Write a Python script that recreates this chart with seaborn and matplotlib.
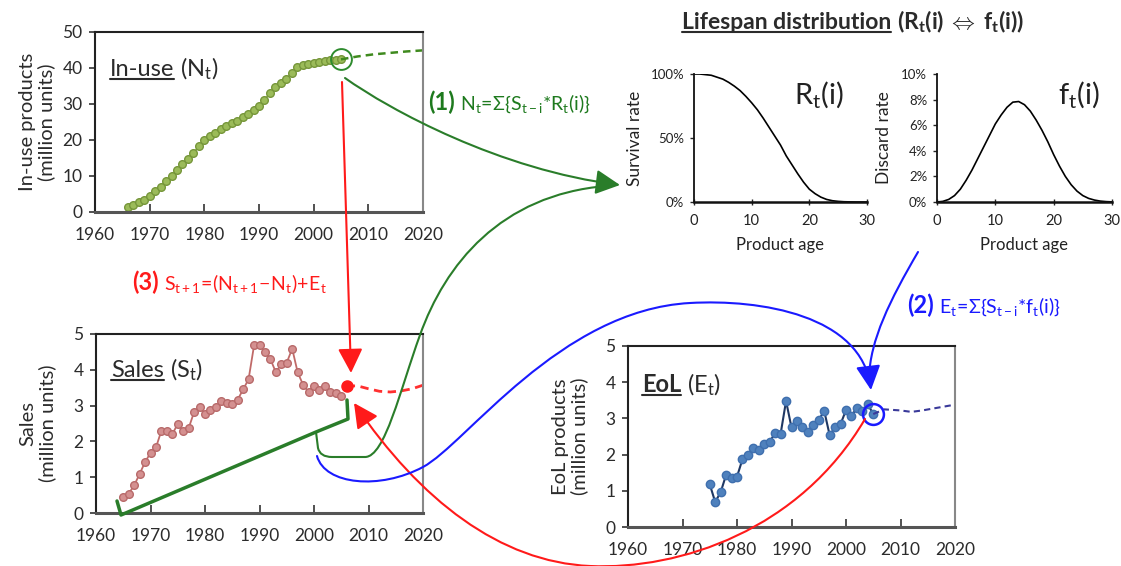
import numpy as np
import seaborn as sns
import matplotlib.pyplot as plt
from matplotlib.path import Path
from matplotlib.patches import FancyArrowPatch, PathPatch
from matplotlib.lines import Line2D
from matplotlib.ticker import PercentFormatter

sns.set_theme(style='ticks')
plt.rcParams['font.family'] = ['Lato', 'DejaVu Sans']
plt.rcParams['mathtext.fontset'] = 'custom'
plt.rcParams['mathtext.rm'] = 'Lato'
plt.rcParams['mathtext.it'] = 'Lato:italic'
plt.rcParams['mathtext.bf'] = 'Lato:bold'

# ---- data ----
inuse_years = list(range(1966, 2006))
inuse_vals = [1.5, 2.0, 2.7, 3.4, 4.5, 5.8, 7.0, 8.5, 10.0, 11.6,
              13.2, 14.8, 16.4, 18.2, 20.0, 21.0, 22.0, 23.0, 24.0, 24.6,
              25.4, 26.3, 27.2, 28.3, 29.5, 31.2, 33.0, 34.6, 35.9, 37.0,
              38.7, 40.2, 40.8, 41.1, 41.4, 41.7, 41.9, 42.1, 42.2, 42.4]
inuse_fc_years = [2005, 2008, 2011, 2014, 2017, 2020]
inuse_fc_vals = [42.4, 43.2, 43.8, 44.2, 44.6, 44.9]

sales_years = list(range(1965, 2006))
sales_vals = [0.45, 0.54, 0.77, 1.09, 1.42, 1.68, 1.83, 2.30, 2.30, 2.20,
              2.49, 2.28, 2.37, 2.82, 2.96, 2.77, 2.87, 2.96, 3.12, 3.06,
              3.05, 3.17, 3.45, 3.74, 4.68, 4.70, 4.49, 4.30, 3.93, 4.16,
              4.20, 4.59, 3.93, 3.58, 3.38, 3.54, 3.43, 3.56, 3.38, 3.35, 3.28]
sales_next_year = 2006
sales_next_val = 3.55
sales_fc_years = [2006, 2008, 2010, 2012, 2014, 2016, 2018, 2020]
sales_fc_vals = [3.55, 3.55, 3.47, 3.40, 3.38, 3.41, 3.47, 3.57]

eol_years = list(range(1975, 2006))
eol_vals = [1.18, 0.69, 0.96, 1.44, 1.35, 1.39, 1.87, 1.98, 2.19, 2.13,
            2.28, 2.35, 2.60, 2.57, 3.48, 2.75, 2.94, 2.75, 2.62, 2.82,
            2.95, 3.21, 2.54, 2.75, 2.84, 3.23, 3.06, 3.30, 3.20, 3.39, 3.12]
eol_fc_years = [2005, 2007, 2010, 2012, 2014, 2017, 2020]
eol_fc_vals = [3.12, 3.25, 3.22, 3.18, 3.22, 3.30, 3.38]

ages = list(range(0, 31))
survival = [1.00, 1.00, 0.995, 0.99, 0.975, 0.96, 0.935, 0.905, 0.87, 0.825,
            0.775, 0.72, 0.655, 0.585, 0.515, 0.445, 0.36, 0.29, 0.22, 0.155,
            0.10, 0.065, 0.038, 0.02, 0.01, 0.005, 0.002, 0.001, 0.0, 0.0, 0.0]
discard = [0.0, 0.0005, 0.002, 0.005, 0.010, 0.017, 0.025, 0.034, 0.043, 0.052,
           0.061, 0.068, 0.074, 0.078, 0.0785, 0.076, 0.071, 0.064, 0.056, 0.047,
           0.037, 0.028, 0.020, 0.0135, 0.0085, 0.005, 0.0028, 0.0015, 0.0007, 0.0003, 0.0001]

W, H = 1121, 566
fig = plt.figure(figsize=(W / 100, H / 100), dpi=100)
fig.patch.set_facecolor('white')
txt = '#2b2b2b'


def rect(x0, y0, x1, y1):
    return [x0 / W, 1 - y1 / H, (x1 - x0) / W, (y1 - y0) / H]


ax_n = fig.add_axes(rect(95, 32, 423, 212))
ax_s = fig.add_axes(rect(96, 334, 423, 513))
ax_e = fig.add_axes(rect(628, 346, 955, 527))
ax_r = fig.add_axes(rect(694, 74, 867, 202))
ax_f = fig.add_axes(rect(937, 74, 1112, 202))


def style_time(ax, ymax, ystep, label):
    ax.set_xlim(1960, 2020)
    ax.set_ylim(0, ymax)
    ax.set_xticks(range(1960, 2021, 10))
    ax.set_yticks(np.arange(0, ymax + 0.01, ystep))
    ax.tick_params(axis='x', direction='in', length=6, width=1.2, labelsize=12.5,
                   pad=11, color='#333', labelcolor=txt)
    ax.tick_params(axis='y', direction='out', length=4, width=1.2, labelsize=12.5,
                   pad=5, color='#333', labelcolor=txt)
    for sp in ax.spines.values():
        sp.set_visible(True)
        sp.set_color('#222')
        sp.set_linewidth(1.5)
    ax.spines['right'].set_color('#888')
    ax.spines['bottom'].set_color('#555')
    ax.spines['bottom'].set_linewidth(2.2)
    ax.set_xlabel('')
    ax.set_ylabel(label, fontsize=14.5, color=txt, linespacing=1.1)
    ax.yaxis.set_label_coords(-0.122, 0.5)


# in-use
sns.lineplot(x=inuse_years, y=inuse_vals, ax=ax_n, color='#8aaa48', lw=1.2,
             marker='o', markersize=5.5, markerfacecolor='#9bbb59',
             markeredgecolor='#76963a', markeredgewidth=1)
sns.lineplot(x=inuse_fc_years, y=inuse_fc_vals, ax=ax_n, color='#3f8a1e', lw=1.8,
             linestyle=(0, (3, 2)))
ax_n.plot([inuse_years[-1]], [inuse_vals[-1]], 'o', ms=15, mfc='none',
          mec='#2e8b2e', mew=1.4)
style_time(ax_n, 50, 10, 'In-use products\n(million units)')

# sales
sns.lineplot(x=sales_years, y=sales_vals, ax=ax_s, color='#c06a68', lw=1.3,
             marker='o', markersize=5.5, markerfacecolor='#d49090',
             markeredgecolor='#b86a6a', markeredgewidth=1)
sns.lineplot(x=sales_fc_years, y=sales_fc_vals, ax=ax_s, color='#ff3030', lw=2,
             linestyle=(0, (3, 2)))
ax_s.plot([sales_next_year], [sales_next_val], 'o', ms=8, color='#ff1a1a')
style_time(ax_s, 5, 1, 'Sales\n(million units)')

# EoL
sns.lineplot(x=eol_years, y=eol_vals, ax=ax_e, color='#1f3864', lw=1.5,
             marker='o', markersize=6, markerfacecolor='#4f81bd',
             markeredgecolor='#3f6fae', markeredgewidth=1)
sns.lineplot(x=eol_fc_years, y=eol_fc_vals, ax=ax_e, color='#3a3a9a', lw=1.5,
             linestyle=(0, (3, 2)))
ax_e.plot([eol_years[-1]], [eol_vals[-1]], 'o', ms=15, mfc='none',
          mec='#1a1aff', mew=1.8)
style_time(ax_e, 5, 1, 'EoL products\n(million units)')

# lifespan distributions
sns.lineplot(x=ages, y=survival, ax=ax_r, color='black', lw=1.2)
sns.lineplot(x=ages, y=discard, ax=ax_f, color='black', lw=1.2)
for ax, ymax, step, lab, lx in [(ax_r, 1.0, 0.5, 'Survival rate', -0.295),
                                (ax_f, 0.1, 0.02, 'Discard rate', -0.257)]:
    ax.set_xlim(0, 30)
    ax.set_ylim(0, ymax)
    ax.set_xticks([0, 10, 20, 30])
    ax.set_yticks(np.arange(0, ymax + ymax / 100, step))
    ax.yaxis.set_major_formatter(PercentFormatter(1.0, decimals=0))
    ax.tick_params(axis='x', direction='inout', length=5, width=1, labelsize=10.5,
                   pad=6, labelcolor='#222')
    ax.tick_params(axis='y', direction='out', length=3, width=1, labelsize=9.5,
                   pad=4, labelcolor='#222')
    ax.spines['top'].set_visible(False)
    ax.spines['right'].set_visible(False)
    ax.spines['left'].set_linewidth(1.3)
    ax.spines['bottom'].set_linewidth(1.8)
    ax.spines['left'].set_color('#111')
    ax.spines['bottom'].set_color('#111')
    ax.set_xlabel('Product age', fontsize=12, color='#222')
    ax.xaxis.set_label_coords(0.5, -0.27)
    ax.set_ylabel(lab, fontsize=12.5, color='#222')
    ax.yaxis.set_label_coords(lx, 0.5)

ax_r.text(0.58, 0.77, r'R$_\mathregular{t}$(i)', transform=ax_r.transAxes,
          fontsize=21, color='#222', va='baseline')
ax_f.text(0.69, 0.77, r'f$_\mathregular{t}$(i)', transform=ax_f.transAxes,
          fontsize=21, color='#222', va='baseline')

renderer = fig.canvas.get_renderer()


def two_part(x, y, first, rest, size1, size2, color, w1='normal', w2='normal',
             under=False, gap=3):
    t1 = fig.text(x / W, 1 - y / H, first, fontsize=size1, color=color,
                  fontweight=w1, va='baseline', ha='left')
    bb = t1.get_window_extent(renderer)
    fig.text((bb.x1 + gap) / W, 1 - y / H, rest, fontsize=size2, color=color,
             fontweight=w2, va='baseline', ha='left')
    if under:
        yy = (H - y - 3) / H
        fig.add_artist(Line2D([bb.x0 / W, bb.x1 / W], [yy, yy], color=color, lw=1.5))


two_part(110, 76, 'In-use', r'($\mathregular{N_t}$)', 17, 17, txt, under=True, gap=6)
two_part(111, 377, 'Sales', r'($\mathregular{S_t}$)', 17, 17, txt, under=True, gap=6)
two_part(642, 392, 'EoL', r'($\mathregular{E_t}$)', 17, 17, txt, w1='bold', under=True, gap=6)
two_part(682, 29, 'Lifespan distribution',
         r'$\mathbf{(R_t(i)\;\Leftrightarrow\;f_t(i))}$', 16.5, 16.5, txt,
         w1='bold', w2='bold', under=True, gap=6)
two_part(428, 110, '(1)', r'$\mathregular{N_t\!=\!\Sigma\{S_{t-i}{*}R_t(i)\}}$',
         17, 14, '#1e7a1e', w1='bold', gap=5)
two_part(132, 290, '(3)', r'$\mathregular{S_{t+1}\!=\!(N_{t+1}\!-\!N_t)\!+\!E_t}$',
         17, 14, '#ff1a1a', w1='bold', gap=5)
two_part(907, 313, '(2)', r'$\mathregular{E_t\!=\!\Sigma\{S_{t-i}{*}f_t(i)\}}$',
         17, 14, '#1a1aff', w1='bold', gap=5)

# ---- connectors drawn in pixel space ----
ax_o = fig.add_axes([0, 0, 1, 1], zorder=10)
ax_o.set_xlim(0, W)
ax_o.set_ylim(H, 0)
ax_o.axis('off')

M, L, C3, C4 = Path.MOVETO, Path.LINETO, Path.CURVE3, Path.CURVE4
head = '-|>,head_length=0.75,head_width=0.38'


def connector(verts, codes, color, lw, arrow=False):
    p = Path(verts, codes)
    if arrow:
        ax_o.add_patch(FancyArrowPatch(path=p, arrowstyle=head, mutation_scale=20,
                                       color=color, lw=lw))
    else:
        ax_o.add_patch(PathPatch(p, fill=False, edgecolor=color, lw=lw,
                                 capstyle='round', joinstyle='round'))


green, red, blue = '#2a7d2a', '#ff1a1a', '#1a1aff'

connector([(345, 78), (390, 110), (500, 170), (620, 185)], [M, C4, C4, C4], green, 1.5, True)
connector([(117, 501), (121, 515), (316, 432), (348, 419), (347, 400)],
          [M, L, L, L, L], green, 2.5)
connector([(316, 432), (318, 448), (320, 457), (332, 457), (365, 457),
           (385, 457), (400, 390), (420, 335),
           (445, 265), (500, 195), (606, 186)],
          [M, L, C3, C3, L, C4, C4, C4, C4, C4, C4], green, 1.5)

connector([(342, 82), (351, 373)], [M, L], red, 1.5, True)
connector([(865, 419), (800, 530), (680, 570), (590, 566),
           (500, 562), (420, 500), (354, 403)],
          [M, C4, C4, C4, C4, C4, C4], red, 1.5, True)

connector([(317, 456), (325, 485), (380, 490), (423, 467),
           (466, 444), (560, 310), (690, 303),
           (760, 299), (862, 315), (871, 390)],
          [M, C4, C4, C4, C4, C4, C4, C4, C4, C4], blue, 1.5, True)
connector([(918, 252), (890, 300), (870, 340), (869, 378)], [M, C4, C4, C4], blue, 1.5)

fig.savefig('out.png', dpi=100, facecolor='white')
